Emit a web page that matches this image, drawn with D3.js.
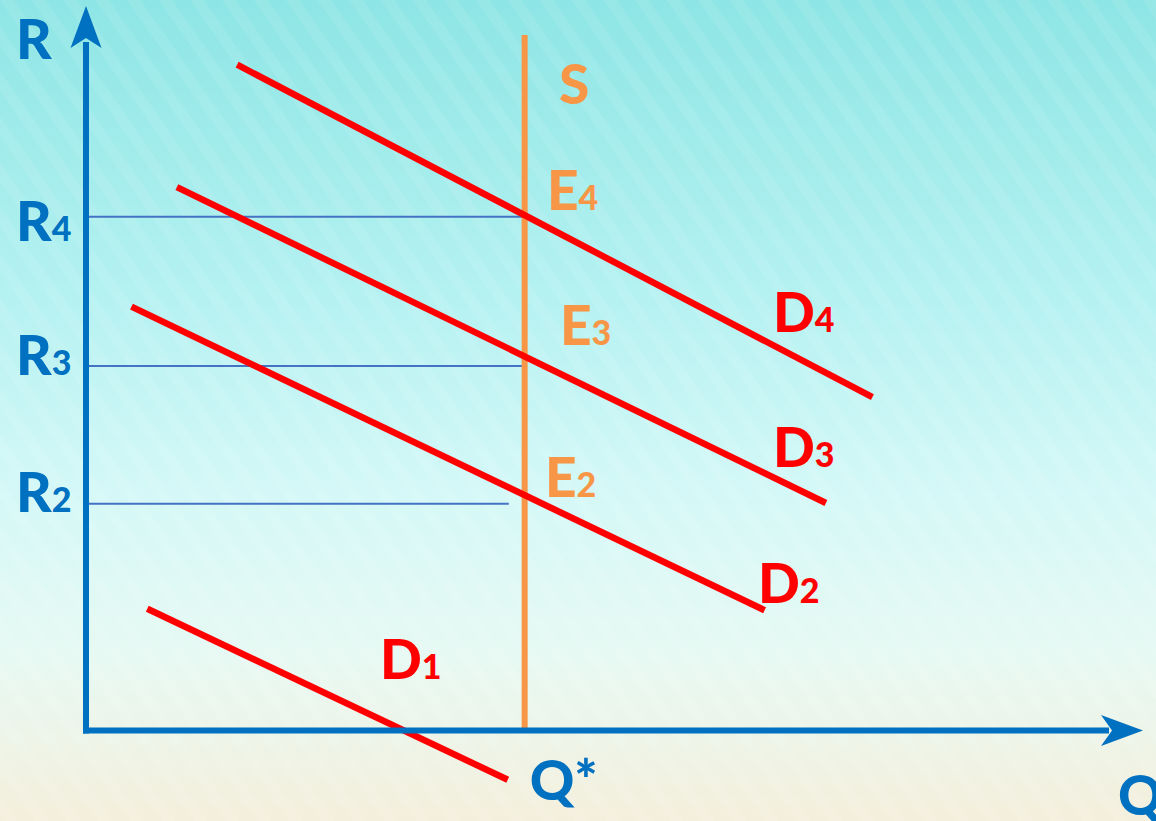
<!DOCTYPE html>
<html lang="en">
  <head>
    <meta charset="UTF-8" />
    <title>Supply and demand: R vs Q</title>
    <script src="https://d3js.org/d3.v7.min.js"></script>
    <style>
      html, body { margin: 0; padding: 0; overflow: hidden; }
      svg { display: block; }
      text { font-family: Lato, "Open Sans", sans-serif; font-weight: 900; }
    </style>
  </head>
  <body>
    <div class="visHolder"></div>

    <script>
      // ----------- Data (chart units: Q 0..100, R 0..100) ----------- //

      var demandNames = ["D1", "D2", "D3", "D4"];
      var demandStartQ = [5.8, 4.3, 8.6, 14.3];
      var demandStartR = [16.8, 58.5, 75.0, 91.9];
      var demandEndQ   = [39.9, 64.2, 70.0, 74.4];
      var demandEndR   = [-6.8, 16.6, 31.4, 46.0];

      var supplyQ = 41.5;          // Q*
      var supplyTopR = 96.0;

      var rateNames  = ["R2", "R3", "R4"];
      var rateValues = [31.3, 50.3, 70.9];
      var rateLineEndQ = [40.0, supplyQ, supplyQ];

      var equilNames = ["E2", "E3", "E4"];

      // ----------- Basic Variables ----------- //

      var width = 1156;
      var height = 821;
      var blue = "#0070c0";
      var red = "#ff0000";
      var orange = "#f79646";

      var xScale = d3.scaleLinear().domain([0, 100]).range([86, 1143]);
      var yScale = d3.scaleLinear().domain([0, 100]).range([730.5, 6]);

      var svg = d3.select(".visHolder")
        .append("svg")
        .attr("width", width)
        .attr("height", height);

      // ----------- Background ----------- //

      var defs = svg.append("defs");
      var grad = defs.append("linearGradient")
        .attr("id", "bg")
        .attr("x1", 0).attr("y1", 0).attr("x2", 0).attr("y2", 1);
      grad.append("stop").attr("offset", "0%").attr("stop-color", "#8ee5e5");
      grad.append("stop").attr("offset", "35%").attr("stop-color", "#b4f1f1");
      grad.append("stop").attr("offset", "60%").attr("stop-color", "#d4f8f7");
      grad.append("stop").attr("offset", "80%").attr("stop-color", "#e7f9f3");
      grad.append("stop").attr("offset", "100%").attr("stop-color", "#f4efdc");

      var stripes = defs.append("pattern")
        .attr("id", "stripes")
        .attr("patternUnits", "userSpaceOnUse")
        .attr("width", 26).attr("height", 26)
        .attr("patternTransform", "rotate(-35)");
      stripes.append("rect")
        .attr("width", 11).attr("height", 26)
        .attr("fill", "#ffffff")
        .attr("opacity", 0.08);

      svg.append("rect").attr("width", width).attr("height", height).attr("fill", "url(#bg)");
      svg.append("rect").attr("width", width).attr("height", height).attr("fill", "url(#stripes)");

      // ----------- R level guide lines ----------- //

      svg.selectAll(".rate-line")
        .data(rateValues)
        .enter()
        .append("line")
          .attr("class", "rate-line")
          .attr("x1", xScale(0))
          .attr("x2", (d, i) => xScale(rateLineEndQ[i]))
          .attr("y1", d => yScale(d))
          .attr("y2", d => yScale(d))
          .attr("stroke", "#4472c4")
          .attr("stroke-width", 2);

      // ----------- Supply line ----------- //

      svg.append("line")
        .attr("x1", xScale(supplyQ)).attr("x2", xScale(supplyQ))
        .attr("y1", yScale(0)).attr("y2", yScale(supplyTopR))
        .attr("stroke", orange)
        .attr("stroke-width", 6);

      // ----------- Demand lines ----------- //

      svg.selectAll(".demand")
        .data(demandNames)
        .enter()
        .append("line")
          .attr("class", "demand")
          .attr("x1", (d, i) => xScale(demandStartQ[i]))
          .attr("y1", (d, i) => yScale(demandStartR[i]))
          .attr("x2", (d, i) => xScale(demandEndQ[i]))
          .attr("y2", (d, i) => yScale(demandEndR[i]))
          .attr("stroke", red)
          .attr("stroke-width", 6.5);

      // ----------- Axes ----------- //

      var x0 = xScale(0), y0 = yScale(0);
      var yTop = yScale(100), xEnd = xScale(100);

      svg.append("line")
        .attr("x1", x0).attr("x2", x0)
        .attr("y1", y0 + 3).attr("y2", yTop + 36)
        .attr("stroke", blue).attr("stroke-width", 6);
      svg.append("path")
        .attr("d", `M${x0},${yTop} L${x0 + 15.5},${yTop + 42} L${x0},${yTop + 32} L${x0 - 15.5},${yTop + 42} Z`)
        .attr("fill", blue);

      svg.append("line")
        .attr("x1", x0 - 3).attr("x2", xEnd - 34)
        .attr("y1", y0).attr("y2", y0)
        .attr("stroke", blue).attr("stroke-width", 6);
      svg.append("path")
        .attr("d", `M${xEnd},${y0} L${xEnd - 42},${y0 - 15.5} L${xEnd - 31},${y0} L${xEnd - 42},${y0 + 15.5} Z`)
        .attr("fill", blue);

      // ----------- Labels ----------- //

      function label(x, y, main, sub, color) {
        var t = svg.append("text")
          .attr("x", x).attr("y", y)
          .attr("fill", color)
          .style("font-size", "55px");
        t.append("tspan").text(main);
        if (sub) t.append("tspan").style("font-size", "34px").text(sub);
      }

      // axis titles
      label(16, 59, "R", null, blue);
      label(1118, 815, "Q", null, blue);
      label(xScale(supplyQ) + 5, 800, "Q*", null, blue);

      // R levels
      var rateLabelDy = [8, 9, 24];
      rateNames.forEach(function(name, i) {
        label(16, yScale(rateValues[i]) + rateLabelDy[i], name[0], name[1], blue);
      });

      // supply + equilibria
      label(559, 104, "S", null, orange);
      var equilX = [545, 560, 547];
      var equilY = [497, 345, 210];
      equilNames.forEach(function(name, i) {
        label(equilX[i], equilY[i], name[0], name[1], orange);
      });

      // demand labels
      var demandLabelX = [380, 758, 773, 773];
      var demandLabelY = [679, 603, 467, 332];
      demandNames.forEach(function(name, i) {
        label(demandLabelX[i], demandLabelY[i], name[0], name[1], red);
      });
    </script>
  </body>
</html>
